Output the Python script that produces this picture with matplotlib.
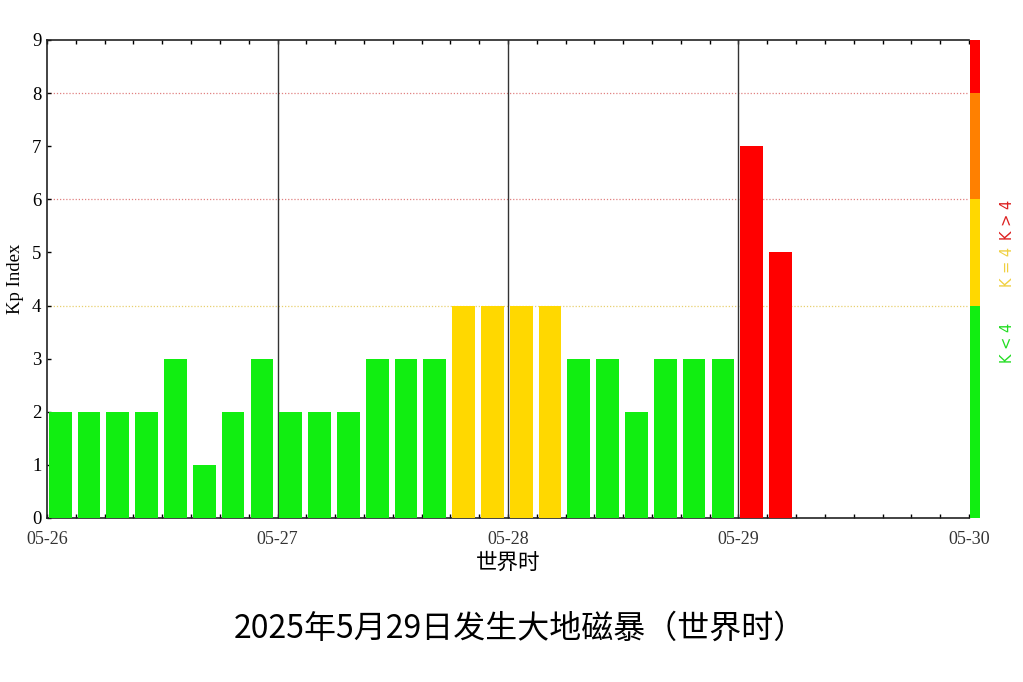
import matplotlib
matplotlib.use("Agg")
import matplotlib.pyplot as plt
from matplotlib.ticker import MultipleLocator

# Data: Kp index per 3-hour slot starting 05-26 00:00 UT
kp_values = [2, 2, 2, 2, 3, 1, 2, 3,
             2, 2, 2, 3, 3, 3, 4, 4,
             4, 4, 3, 3, 2, 3, 3, 3,
             7, 5]
day_labels = ["05-26", "05-27", "05-28", "05-29", "05-30"]
slots_per_day = 8

GREEN = "#11ee11"
YELLOW = "#ffd800"
ORANGE = "#ff8000"
RED = "#ff0000"

def bar_color(v):
    if v < 4:
        return GREEN
    if v == 4:
        return YELLOW
    return RED

fig = plt.figure(figsize=(10.23, 6.82), dpi=100)
ax = fig.add_axes([47/1023, 1-518/682, (969-47)/1023, (518-40)/682])

slot = 1.0 / slots_per_day
xs = [i * slot + 0.008 for i in range(len(kp_values))]
ax.bar(xs, kp_values, width=slot * 0.79, align="edge",
       color=[bar_color(v) for v in kp_values], edgecolor="none", zorder=3)

# day boundaries
for d in range(1, len(day_labels) - 1):
    ax.axvline(d, color="#333333", lw=1.0, zorder=2)

# threshold lines
ax.axhline(8, color="#e08080", lw=0.9, ls=(0, (1, 1.5)), zorder=1)
ax.axhline(6, color="#e08080", lw=0.9, ls=(0, (1, 1.5)), zorder=1)
ax.axhline(4, color="#e8d070", lw=0.9, ls=(0, (1, 1.5)), zorder=1)

ax.set_xlim(0, len(day_labels) - 1)
ax.set_ylim(0, 9)
ax.set_xticks(range(len(day_labels)))
ax.set_xticklabels(day_labels, family="Liberation Serif", fontsize=13, color="#333333")
ax.xaxis.set_minor_locator(MultipleLocator(slot))
ax.set_yticks(range(10))
ax.set_yticklabels([str(i) for i in range(10)], family="Liberation Serif", fontsize=13.5)
ax.tick_params(axis="both", which="both", direction="in", length=3, width=1,
               top=True, right=False)
ax.tick_params(axis="x", which="major", pad=9)
ax.tick_params(axis="y", pad=4)
for s in ["left", "bottom", "top"]:
    ax.spines[s].set_linewidth(1.2)
    ax.spines[s].set_color("#222222")
ax.spines["right"].set_visible(False)

ax.set_ylabel("Kp Index", family="Liberation Serif", fontsize=13.5, labelpad=6)
ax.set_xlabel("世界时", family=["Noto Sans CJK SC", "DejaVu Sans"], fontsize=15.5, labelpad=3)

# color scale bar on the right
cax = fig.add_axes([970/1023, 1-518/682, 10/1023, (518-40)/682])
cax.bar([0], [4], bottom=0, width=1, color=GREEN, align="edge")
cax.bar([0], [2], bottom=4, width=1, color=YELLOW, align="edge")
cax.bar([0], [2], bottom=6, width=1, color=ORANGE, align="edge")
cax.bar([0], [1], bottom=8, width=1, color=RED, align="edge")
cax.set_xlim(0, 1)
cax.set_ylim(0, 9)
cax.axis("off")

fig.text(1007/1023, 1-343/682, "K < 4", rotation=90, color="#22dd22",
         fontsize=10.5, ha="center", va="center", family="DejaVu Sans")
fig.text(1007/1023, 1-267/682, "K = 4", rotation=90, color="#f0d040",
         fontsize=10.5, ha="center", va="center", family="DejaVu Sans")
fig.text(1007/1023, 1-220/682, "K > 4", rotation=90, color="#dd2020",
         fontsize=10.5, ha="center", va="center", family="DejaVu Sans")

fig.text(0.508, 1-629/682, "2025年5月29日发生大地磁暴（世界时）",
         family=["Noto Sans CJK SC", "DejaVu Sans"], fontsize=23,
         ha="center", va="center", color="black")

fig.savefig("out.png", dpi=100, facecolor="white")
